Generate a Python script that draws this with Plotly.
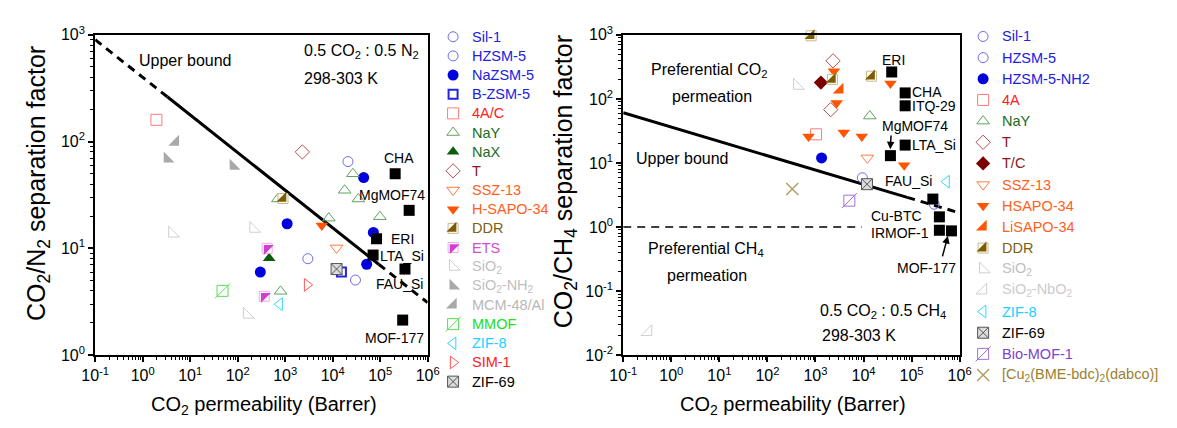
import plotly.graph_objects as go

W, H = 1177, 428
FONT = "Liberation Sans, Arial, Helvetica, sans-serif"

# ---------------- CO2/N2 mixtures: (CO2 permeability [Barrer], CO2/N2 separation factor)
n2_sil1 = [(21000, 65), (30200, 5.05)]
n2_hzsm5 = [(3000, 8.0)]
n2_nazsm5 = [(45000, 46), (1100, 17), (72000, 14.1), (52000, 7.1), (300, 6.0)]
n2_bzsm5 = [(15300, 6.0)]
n2_4ac = [(1.95, 160)]
n2_nay = [(26700, 50), (17900, 35), (34700, 29), (8300, 19.2), (98700, 19.8), (700, 29), (800, 3.96)]
n2_nax = [(460, 8.1)]
n2_t = [(2300, 80)]
n2_ssz13 = [(12100, 10.1)]
n2_hsapo34 = [(5900, 16.4)]
n2_ddr = [(900, 29.3)]
n2_ets = [(418, 10), (363, 3.56)]
n2_sio2 = [(4.2, 13.8), (215, 15.3), (157, 2.4)]
n2_sio2_nh2 = [(3.3, 69), (81, 59)]
n2_mcm48 = [(4.9, 99)]
n2_mmof = [(48, 4.0)]
n2_zif8 = [(764, 3.0)]
n2_sim1 = [(2900, 4.55)]
n2_zif69 = [(12100, 6.4)]
n2_named_pts = [(207000, 50), (408000, 22.7), (84000, 12.3), (71000, 8.66), (333000, 6.4), (298000, 2.13)]
n2_bound = [(0.1, 900), (3.3, 263), (93000, 7.1), (1e6, 3.1)]

# ---------------- CO2/CH4 mixtures: (CO2 permeability [Barrer], CO2/CH4 separation factor)
ch4_sil1 = [(9470, 5.87)]
ch4_hzsm5 = [(295000, 2.27)]
ch4_hzsm5_nh2 = [(1340, 12.0)]
ch4_4a = [(1030, 28)]
ch4_nay = [(13500, 54)]
ch4_t = [(2320, 393), (2080, 68)]
ch4_tc = [(1300, 180)]
ch4_ssz13 = [(12000, 12)]
ch4_hsapo34 = [(2430, 269), (2760, 86), (36300, 174), (718, 25.8), (3880, 30), (9200, 25.8), (70000, 9.2)]
ch4_lisapo34 = [(3210, 138)]
ch4_ddr = [(813, 967), (2250, 202), (14700, 226)]
ch4_sio2 = [(416, 161)]
ch4_sio2_nbo2 = [(0.33, 0.023)]
ch4_zif8 = [(533000, 5.1)]
ch4_zif69 = [(11800, 4.66)]
ch4_biomof1 = [(5070, 2.58)]
ch4_cu_bme = [(329, 3.93)]
ch4_named_pts = [(38600, 263), (73500, 124), (73500, 78), (36300, 13.0), (73500, 19),
                 (277000, 2.73), (379000, 1.44), (379000, 0.89), (675000, 0.87)]
ch4_bound = [(0.1, 60.8), (81000, 2.9), (1e6, 1.66)]
ch4_equal = [(0.1, 1.0), (9200, 1.0)]

# ---------------- marker styles: layers of (symbol, size, colour, line colour, line width)
STY = {
    "sil": [("circle-open", 10, "#6b6be8", "#6b6be8", 1.0)],
    "nazsm": [("circle", 11, "#0000dd", "#0000dd", 0)],
    "bzsm": [("square-open", 9, "#2424e0", "#2424e0", 2.0)],
    "4a": [("square-open", 11, "#ff7a7a", "#ff7a7a", 1.0)],
    "nay": [("triangle-up-open", 11, "#5fa35f", "#5fa35f", 1.0)],
    "nax": [("triangle-up", 11, "#0b5d0b", "#0b5d0b", 0)],
    "t": [("diamond-open", 11, "#b85050", "#b85050", 1.0)],
    "tc": [("diamond", 11, "#7a0000", "#7a0000", 0)],
    "ssz": [("triangle-down-open", 11, "#ff7a40", "#ff7a40", 1.0)],
    "hsapo": [("triangle-down", 11, "#ff5500", "#ff5500", 0)],
    "lisapo": [("triangle-se", 12, "#ff5500", "#ff5500", 0)],
    "ddr": [("square", 10, "white", "#c8b98a", 1.0), ("triangle-se", 11, "#7d5c00", "#7d5c00", 0)],
    "ets": [("square", 10, "white", "#f0a8f0", 1.0), ("triangle-nw", 11, "#d040d0", "#d040d0", 0)],
    "sio2": [("triangle-sw-open", 12, "#cfcfcf", "#cfcfcf", 1.0)],
    "sio2nh2": [("triangle-sw", 12, "#a9a9a9", "#a9a9a9", 0)],
    "mcm": [("triangle-se", 12, "#a9a9a9", "#a9a9a9", 0)],
    "sio2nbo2": [("triangle-se-open", 12, "#cfcfcf", "#cfcfcf", 1.0)],
    "mmof": [("square-open", 11, "#55e055", "#55e055", 1.0), ("line-ne-open", 15, "#55e055", "#55e055", 1.0)],
    "zif8": [("triangle-left-open", 11, "#30d8ff", "#30d8ff", 1.0)],
    "sim1": [("triangle-right-open", 11, "#ff5555", "#ff5555", 1.0)],
    "zif69": [("square-x", 11, "#dcdcdc", "#555555", 1.0)],
    "bio": [("square-open", 11, "#a070e0", "#a070e0", 1.0), ("line-ne-open", 15, "#a070e0", "#a070e0", 1.0)],
    "cu": [("x-thin-open", 12, "#b0a060", "#b0a060", 1.5)],
    "named": [("square", 11, "black", "black", 0)],
}

BLUE_T, RED_T, GREEN_T, MAROON_T = "#2020e0", "#ff2020", "#1a6b1a", "#8b1a1a"
ORANGE_T, OLIVE_T, GRAY_T = "#ff6020", "#806010", "#c0c0c0"

# legend entries: (label, text colour, style, points)
n2_series = [
    ("Sil-1", BLUE_T, "sil", n2_sil1),
    ("HZSM-5", BLUE_T, "sil", n2_hzsm5),
    ("NaZSM-5", BLUE_T, "nazsm", n2_nazsm5),
    ("B-ZSM-5", BLUE_T, "bzsm", n2_bzsm5),
    ("4A/C", RED_T, "4a", n2_4ac),
    ("NaY", GREEN_T, "nay", n2_nay),
    ("NaX", GREEN_T, "nax", n2_nax),
    ("T", MAROON_T, "t", n2_t),
    ("SSZ-13", ORANGE_T, "ssz", n2_ssz13),
    ("H-SAPO-34", ORANGE_T, "hsapo", n2_hsapo34),
    ("DDR", OLIVE_T, "ddr", n2_ddr),
    ("ETS", "#d050d0", "ets", n2_ets),
    ("SiO<sub>2</sub>", GRAY_T, "sio2", n2_sio2),
    ("SiO<sub>2</sub>-NH<sub>2</sub>", GRAY_T, "sio2nh2", n2_sio2_nh2),
    ("MCM-48/Al", "#b8b8b8", "mcm", n2_mcm48),
    ("MMOF", "#20e020", "mmof", n2_mmof),
    ("ZIF-8", "#20d0ff", "zif8", n2_zif8),
    ("SIM-1", RED_T, "sim1", n2_sim1),
    ("ZIF-69", "black", "zif69", n2_zif69),
]
n2_named = ["CHA", "MgMOF74", "ERI", "LTA_Si", "FAU_Si", "MOF-177"]

ch4_series = [
    ("Sil-1", BLUE_T, "sil", ch4_sil1),
    ("HZSM-5", BLUE_T, "sil", ch4_hzsm5),
    ("HZSM-5-NH2", BLUE_T, "nazsm", ch4_hzsm5_nh2),
    ("4A", RED_T, "4a", ch4_4a),
    ("NaY", GREEN_T, "nay", ch4_nay),
    ("T", MAROON_T, "t", ch4_t),
    ("T/C", MAROON_T, "tc", ch4_tc),
    ("SSZ-13", ORANGE_T, "ssz", ch4_ssz13),
    ("HSAPO-34", ORANGE_T, "hsapo", ch4_hsapo34),
    ("LiSAPO-34", ORANGE_T, "lisapo", ch4_lisapo34),
    ("DDR", OLIVE_T, "ddr", ch4_ddr),
    ("SiO<sub>2</sub>", GRAY_T, "sio2", ch4_sio2),
    ("SiO<sub>2</sub>-NbO<sub>2</sub>", "#cccccc", "sio2nbo2", ch4_sio2_nbo2),
    ("ZIF-8", "#20d0ff", "zif8", ch4_zif8),
    ("ZIF-69", "black", "zif69", ch4_zif69),
    ("Bio-MOF-1", "#8040d0", "bio", ch4_biomof1),
    ("[Cu<sub>2</sub>(BME-bdc)<sub>2</sub>(dabco)]", "#9a8030", "cu", ch4_cu_bme),
]
ch4_named = ["ERI", "CHA", "ITQ-29", "MgMOF74", "LTA_Si", "FAU_Si", "Cu-BTC", "IRMOF-1", "MOF-177"]

fig = go.Figure()


def add_points(pts, style, xa, ya):
    xs = [p[0] for p in pts]
    ys = [p[1] for p in pts]
    for sym, size, col, lcol, lw in STY[style]:
        fig.add_trace(go.Scatter(
            x=xs, y=ys, mode="markers", xaxis=xa, yaxis=ya, cliponaxis=False,
            showlegend=False, hoverinfo="skip",
            marker=dict(symbol=sym, size=size, color=col, line=dict(color=lcol, width=lw))))


def add_line(pts, xa, ya, dash, width):
    fig.add_trace(go.Scatter(
        x=[p[0] for p in pts], y=[p[1] for p in pts], mode="lines", xaxis=xa, yaxis=ya,
        showlegend=False, hoverinfo="skip", line=dict(color="black", width=width, dash=dash)))


# bound lines (dashed where extrapolated)
add_line(n2_bound[0:2], "x", "y", "8px,6px", 3)
add_line(n2_bound[1:3], "x", "y", "solid", 3)
add_line(n2_bound[2:4], "x", "y", "8px,6px", 3)
add_line(ch4_bound[0:2], "x2", "y2", "solid", 3)
add_line(ch4_bound[1:3], "x2", "y2", "8px,6px", 3)
add_line(ch4_equal, "x2", "y2", "8px,6px", 1.5)

for _, _, sty, pts in n2_series:
    add_points(pts, sty, "x", "y")
add_points(n2_named_pts, "named", "x", "y")
for _, _, sty, pts in ch4_series:
    add_points(pts, sty, "x2", "y2")
add_points(ch4_named_pts, "named", "x2", "y2")

annotations = []


def text(x, y, s, size=14, anchor="left", color="black"):
    annotations.append(dict(x=x, y=y, xref="x3", yref="y3", text=s, showarrow=False,
                            xanchor=anchor, yanchor="middle",
                            font=dict(family=FONT, size=size, color=color)))


# legends, one per panel
def legend(series, x_sym, x_txt, y0, dy):
    for i, (name, tcol, sty, _) in enumerate(series):
        yy = y0 + i * dy
        for sym, size, col, lcol, lw in STY[sty]:
            fig.add_trace(go.Scatter(
                x=[x_sym], y=[yy], mode="markers", xaxis="x3", yaxis="y3",
                showlegend=False, hoverinfo="skip", cliponaxis=False,
                marker=dict(symbol=sym, size=size, color=col, line=dict(color=lcol, width=lw))))
        text(x_txt, yy, name, size=14.5, color=tcol)


legend(n2_series, 449, 466, 27, 20.1)
legend(ch4_series, 991, 1008, 26.7, 22.2)

# point labels and panel notes
for name, (x, y) in zip(n2_named, [(376, 154), (351, 193), (383, 239), (372, 257), (368, 286), (357, 343)]):
    text(x, y, name)
for name, (x, y) in zip(ch4_named, [(886, 51), (916, 85), (916, 100), (886, 121), (916, 141),
                                     (889, 178), (874, 215), (874, 233), (901, 270)]):
    text(x, y, name)

text(126, 52, "Upper bound", 16)
text(294, 42, "0.5 CO<sub>2</sub> : 0.5 N<sub>2</sub>", 16)
text(294, 71, "298-303 K", 16)
text(649, 62, "Preferential CO<sub>2</sub>", 16)
text(671, 90, "permeation", 16)
text(634, 155, "Upper bound", 16)
text(646, 250, "Preferential CH<sub>4</sub>", 16)
text(666, 277, "permeation", 16)
text(822, 315, "0.5 CO<sub>2</sub> : 0.5 CH<sub>4</sub>", 16)
text(824, 340, "298-303 K", 16)

# axis titles
text(256, 414, "CO<sub>2</sub> permeability (Barrer)", 20, anchor="center")
text(797, 414, "CO<sub>2</sub> permeability (Barrer)", 20, anchor="center")
annotations.append(dict(x=24, y=181, xref="x3", yref="y3", text="CO<sub>2</sub>/N<sub>2</sub> separation factor",
                        textangle=-90, showarrow=False, font=dict(family=FONT, size=25, color="black")))
annotations.append(dict(x=563, y=179, xref="x3", yref="y3", text="CO<sub>2</sub>/CH<sub>4</sub> separation factor",
                        textangle=-90, showarrow=False, font=dict(family=FONT, size=25, color="black")))

# arrows pointing to MgMOF74 and MOF-177
for hx, hy, tx, ty in [(896, 145, 897, 129), (955, 236, 949, 259)]:
    annotations.append(dict(x=hx, y=hy, ax=tx, ay=ty, xref="x3", yref="y3", axref="x3", ayref="y3",
                            text="", showarrow=True, arrowhead=2, arrowsize=1, arrowwidth=1.5,
                            arrowcolor="black"))


def log_axis(lo, hi, domain, anchor):
    vals = [10.0 ** k for k in range(lo, hi + 1)]
    labels = ["10<sup>%d</sup>" % k for k in range(lo, hi + 1)]
    minor = [m * 10.0 ** k for k in range(lo, hi) for m in range(2, 10)]
    return dict(type="log", range=[lo, hi], domain=domain, anchor=anchor,
                tickmode="array", tickvals=vals, ticktext=labels,
                ticks="outside", ticklen=5, tickwidth=1.5, tickcolor="black",
                minor=dict(tickmode="array", tickvals=minor, ticks="outside", ticklen=3,
                           tickwidth=1, tickcolor="black", showgrid=False),
                showline=True, linewidth=2, linecolor="black", mirror=True,
                showgrid=False, zeroline=False,
                tickfont=dict(family=FONT, size=16, color="black"))


ydom = [1 - 361 / H, 1 - 25 / H]
fig.update_layout(
    width=W, height=H, margin=dict(l=0, r=0, t=0, b=0),
    paper_bgcolor="white", plot_bgcolor="rgba(0,0,0,0)",
    showlegend=False,
    xaxis=log_axis(-1, 6, [83 / W, 423 / W], "y"),
    yaxis=log_axis(0, 3, ydom, "x"),
    xaxis2=log_axis(-1, 6, [623 / W, 967 / W], "y2"),
    yaxis2=log_axis(-2, 3, ydom, "x2"),
    xaxis3=dict(domain=[0, 1], range=[0, W], visible=False, anchor="y3", fixedrange=True),
    yaxis3=dict(domain=[0, 1], range=[H, 0], visible=False, anchor="x3", fixedrange=True),
    annotations=annotations,
    font=dict(family=FONT, color="black"),
)

fig.write_html("out.html")
